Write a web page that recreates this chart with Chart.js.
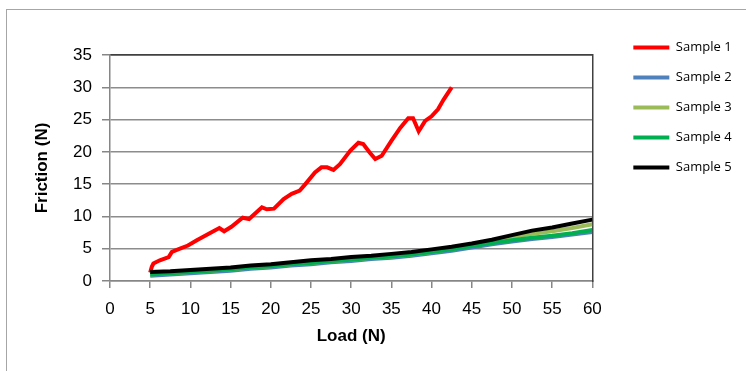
<!DOCTYPE html>
<html>
<head>
<meta charset="utf-8">
<script src="https://cdn.jsdelivr.net/npm/chart.js@4"></script>
<style>
  html, body { margin: 0; padding: 0; background: #fff; overflow: hidden; }
  #frame { position: absolute; left: 6px; top: 9px; width: 900px; height: 500px; border: 1px solid #a6a6a6; }
  #wrap { position: absolute; left: 0; top: 0; width: 746px; height: 371px; }
</style>
</head>
<body>
<div id="frame"></div>
<div id="wrap"><canvas id="myChart" width="746" height="371"></canvas></div>
<script>
const ctx = document.getElementById('myChart');

// Sample 1 (own load points)
const load1 = [5, 5.2, 5.4, 6.2, 7.3, 7.7, 8.7, 9.7, 10.8, 12.4, 13.6, 14.2, 15.1, 16.5, 17.3, 18.9, 19.5, 20.4, 21.6, 22.6, 23.6, 24.3, 25.5, 26.3, 27.0, 27.8, 28.6, 29.9, 30.9, 31.5, 32.3, 33.0, 33.8, 35.0, 36.1, 37.1, 37.7, 38.4, 39.2, 40.0, 40.8, 41.5, 42.5];
const friction1 = [1.3, 2.2, 2.7, 3.2, 3.7, 4.5, 5.0, 5.5, 6.3, 7.4, 8.2, 7.7, 8.4, 9.8, 9.6, 11.4, 11.1, 11.2, 12.7, 13.5, 14.0, 15.0, 16.8, 17.6, 17.6, 17.2, 18.1, 20.2, 21.4, 21.2, 19.9, 18.9, 19.4, 21.7, 23.7, 25.2, 25.2, 23.2, 24.8, 25.5, 26.6, 28.1, 30.0];

// Samples 2-5 share load points
const load = [5, 7.5, 10, 12.5, 15, 17.5, 20, 22.5, 25, 27.5, 30, 32.5, 35, 37.5, 40, 42.5, 45, 47.5, 50, 52.5, 55, 57.5, 60];
const friction2 = [0.8, 1.0, 1.2, 1.4, 1.6, 1.9, 2.1, 2.4, 2.6, 2.9, 3.1, 3.4, 3.6, 3.9, 4.3, 4.7, 5.2, 5.7, 6.1, 6.5, 6.8, 7.2, 7.6];
const friction3 = [1.0, 1.2, 1.4, 1.6, 1.8, 2.1, 2.3, 2.6, 2.8, 3.1, 3.3, 3.6, 3.8, 4.1, 4.5, 5.0, 5.5, 6.1, 6.8, 7.3, 7.7, 8.2, 8.8];
const friction4 = [1.0, 1.2, 1.4, 1.6, 1.8, 2.1, 2.3, 2.6, 2.8, 3.1, 3.3, 3.6, 3.8, 4.1, 4.5, 4.9, 5.4, 5.9, 6.3, 6.7, 7.0, 7.4, 7.9];
const friction5 = [1.4, 1.5, 1.7, 1.9, 2.1, 2.4, 2.6, 2.9, 3.2, 3.4, 3.7, 3.9, 4.2, 4.5, 4.9, 5.3, 5.8, 6.4, 7.1, 7.8, 8.3, 8.9, 9.5];

const xTicks = [0, 5, 10, 15, 20, 25, 30, 35, 40, 45, 50, 55, 60];
const yTicks = [0, 5, 10, 15, 20, 25, 30, 35];

const names = ['Sample 1', 'Sample 2', 'Sample 3', 'Sample 4', 'Sample 5'];
const colors = ['#ff0000', '#4f81bd', '#9bbb59', '#00b050', '#000000'];

function pts(xs, ys) {
  return xs.map((x, i) => ({ x: x, y: ys[i] }));
}

const series = [
  pts(load1, friction1),
  pts(load, friction2),
  pts(load, friction3),
  pts(load, friction4),
  pts(load, friction5)
];

new Chart(ctx, {
  type: 'line',
  data: {
    datasets: series.map((d, i) => ({
      label: names[i],
      data: d,
      borderColor: colors[i],
      backgroundColor: colors[i],
      borderWidth: 4,
      pointRadius: 0,
      tension: 0,
      order: 5 - i  // later samples drawn on top, like the original
    }))
  },
  options: {
    responsive: false,
    animation: false,
    layout: { padding: { left: 28, right: 12, top: 24, bottom: 20 } },
    scales: {
      x: {
        type: 'linear',
        min: 0,
        max: 60,
        afterBuildTicks: (s) => { s.ticks = xTicks.map(v => ({ value: v })); },
        afterFit: (s) => { s.height = 70; },
        ticks: {
          color: '#000',
          font: { family: '"Liberation Sans Narrow", "Liberation Sans", Arial', size: 17 },
          padding: 11,
          maxRotation: 0
        },
        grid: {
          color: 'rgba(0,0,0,0)',
          tickColor: '#868686',
          tickLength: 7,
          lineWidth: 1.5
        },
        border: { color: '#868686', width: 1.5 },
        title: {
          display: true,
          text: 'Load (N)',
          color: '#000',
          font: { family: '"Liberation Sans Narrow", "Liberation Sans", Arial', size: 17, weight: 'bold' }
        }
      },
      // top and right edges of the plot frame
      xTop: {
        type: 'linear',
        position: 'top',
        display: true,
        min: 0,
        max: 60,
        afterFit: (s) => { s.height = 31; },
        ticks: { display: false },
        grid: { display: false },
        border: { color: '#404040', width: 1.5 }
      },
      yRight: {
        type: 'linear',
        position: 'right',
        display: true,
        min: 0,
        max: 35,
        afterFit: (s) => { s.width = 24; },
        ticks: { display: false },
        grid: { display: false },
        border: { color: '#404040', width: 1.5 }
      },
      y: {
        min: 0,
        max: 35,
        afterBuildTicks: (s) => { s.ticks = yTicks.map(v => ({ value: v })); },
        afterFit: (s) => { s.width = 82; },
        ticks: {
          color: '#000',
          font: { family: '"Liberation Sans", Arial', size: 17 },
          padding: 10
        },
        grid: {
          color: (c) => c.tick && c.tick.value === 35 ? '#404040' : '#8c8c8c',
          tickColor: '#868686',
          tickLength: 8,
          lineWidth: 1.5
        },
        border: { color: '#868686', width: 1.5 },
        title: {
          display: true,
          text: 'Friction (N)',
          color: '#000',
          font: { family: '"Liberation Sans", Arial', size: 17, weight: 'bold' }
        }
      }
    },
    plugins: {
      legend: {
        position: 'right',
        align: 'start',
        reverse: true,
        labels: {
          color: '#000',
          font: { family: '"Open Sans", Arial', size: 13 },
          usePointStyle: true,
          pointStyle: 'line',
          pointStyleWidth: 36,
          padding: 17
        }
      },
      tooltip: { enabled: false }
    }
  }
});
</script>
</body>
</html>
